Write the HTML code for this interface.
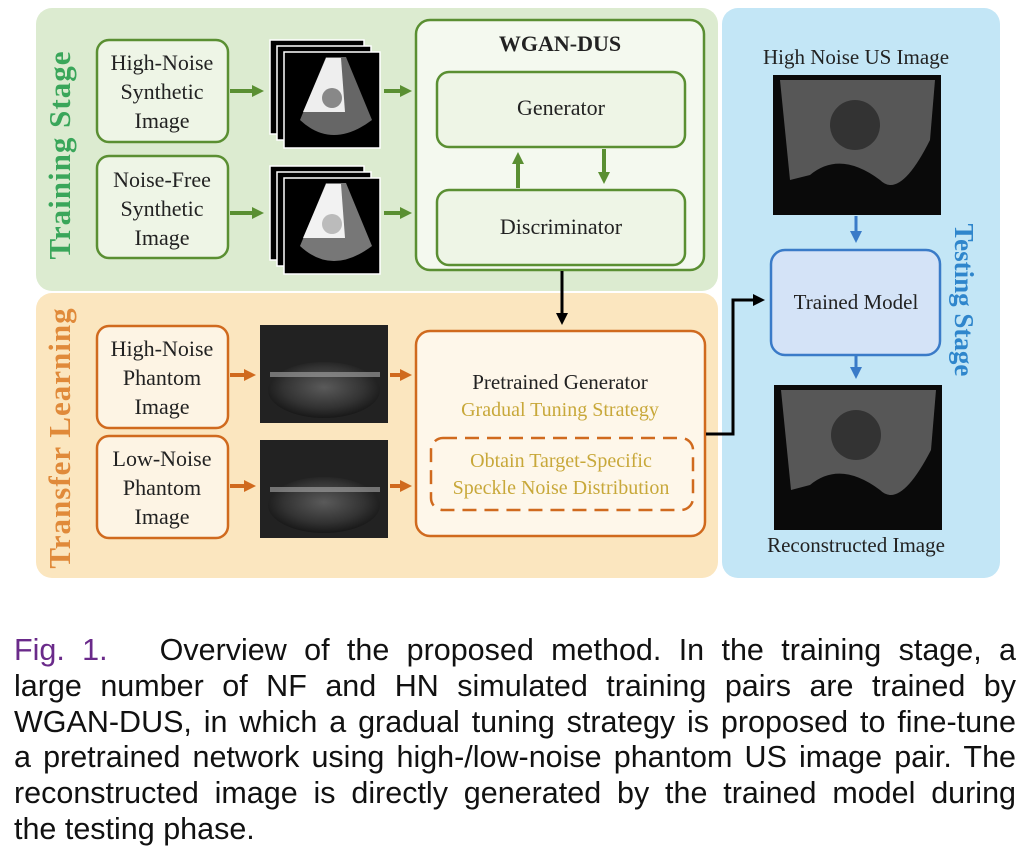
<!DOCTYPE html>
<html><head><meta charset="utf-8"><style>
html,body{margin:0;padding:0;background:#fff;width:1029px;height:856px;overflow:hidden}
svg text{font-family:"Liberation Serif",serif}
.cap{position:absolute;left:14px;top:633px;width:1002px;font-family:"Liberation Sans",sans-serif;font-size:30.5px;line-height:35.8px;color:#111}
.cap div{text-align:justify;text-align-last:justify;white-space:nowrap;height:35.8px}
.cap div.l{text-align-last:left}
</style></head><body>
<svg width="1029" height="600" viewBox="0 0 1029 600" style="position:absolute;left:0;top:0">
<defs>
<marker id="ag" markerWidth="12" markerHeight="12" refX="6" refY="6" orient="auto" markerUnits="userSpaceOnUse"><path d="M0,0L12,6L0,12z" fill="#5a8f32"/></marker>
<marker id="ao" markerWidth="12" markerHeight="12" refX="6" refY="6" orient="auto" markerUnits="userSpaceOnUse"><path d="M0,0L12,6L0,12z" fill="#d06a1e"/></marker>
<marker id="ab" markerWidth="12" markerHeight="12" refX="7" refY="6" orient="auto" markerUnits="userSpaceOnUse"><path d="M0,0L12,6L0,12z" fill="#000"/></marker>
<marker id="au" markerWidth="12" markerHeight="12" refX="7" refY="6" orient="auto" markerUnits="userSpaceOnUse"><path d="M0,0L12,6L0,12z" fill="#3a7bc8"/></marker>
<radialGradient id="us" cx="50%" cy="45%" r="60%"><stop offset="0" stop-color="#5a5a5a"/><stop offset="0.6" stop-color="#333"/><stop offset="1" stop-color="#111"/></radialGradient>
</defs>
<rect x="36" y="8" width="682" height="283" rx="16" fill="#dcebd0"/>
<rect x="36" y="293" width="682" height="285" rx="16" fill="#fbe6bf"/>
<rect x="722" y="8" width="278" height="570" rx="16" fill="#c3e6f6"/>
<text transform="translate(70,155) rotate(-90)" text-anchor="middle" font-size="31" font-weight="bold" fill="#3aa65a" letter-spacing="1">Training Stage</text>
<text transform="translate(70,438) rotate(-90)" text-anchor="middle" font-size="31" font-weight="bold" fill="#e08a3a" letter-spacing="1">Transfer Learning</text>
<text transform="translate(955,300) rotate(90)" text-anchor="middle" font-size="27" font-weight="bold" fill="#2f86cc">Testing Stage</text>
<g fill="#eef5e6" stroke="#5a8f32" stroke-width="2.5">
<rect x="97" y="40" width="131" height="102" rx="12"/>
<rect x="97" y="156" width="131" height="102" rx="12"/>
<rect x="416" y="20" width="288" height="250" rx="14" fill="#f4f9ef"/>
<rect x="437" y="72" width="248" height="75" rx="12"/>
<rect x="437" y="190" width="248" height="75" rx="12"/>
</g>
<g font-size="22" text-anchor="middle" fill="#222">
<text x="162" y="70">High-Noise</text><text x="162" y="99">Synthetic</text><text x="162" y="128">Image</text>
<text x="162" y="187">Noise-Free</text><text x="162" y="216">Synthetic</text><text x="162" y="245">Image</text>
<text x="560" y="51" font-weight="bold" font-size="22">WGAN-DUS</text>
<text x="561" y="115">Generator</text>
<text x="561" y="234">Discriminator</text>
</g>
<g>
<rect x="270" y="40" width="94" height="94" fill="#000" stroke="#fff" stroke-width="1.5"/>
<rect x="277" y="46" width="94" height="94" fill="#000" stroke="#fff" stroke-width="1.5"/>
<rect x="284" y="52" width="96" height="96" fill="#000" stroke="#fff" stroke-width="1.5"/>
<path d="M326,57 L300,120 Q332,150 372,120 L346,57z" fill="#666"/>
<path d="M326,58 L303,112 L345,112 L341,58z" fill="#eee"/>
<circle cx="332" cy="98" r="10" fill="#888"/>
<rect x="270" y="166" width="94" height="94" fill="#000" stroke="#fff" stroke-width="1.5"/>
<rect x="277" y="172" width="94" height="94" fill="#000" stroke="#fff" stroke-width="1.5"/>
<rect x="284" y="178" width="96" height="96" fill="#000" stroke="#fff" stroke-width="1.5"/>
<path d="M326,183 L300,246 Q332,276 372,246 L346,183z" fill="#777"/>
<path d="M326,184 L303,238 L345,238 L341,184z" fill="#f2f2f2"/>
<circle cx="332" cy="224" r="10" fill="#bbb"/>
</g>
<g stroke="#5a8f32" stroke-width="4" fill="none">
<line x1="230" y1="91" x2="258" y2="91" marker-end="url(#ag)"/>
<line x1="230" y1="213" x2="258" y2="213" marker-end="url(#ag)"/>
<line x1="384" y1="91" x2="406" y2="91" marker-end="url(#ag)"/>
<line x1="384" y1="213" x2="406" y2="213" marker-end="url(#ag)"/>
<line x1="518" y1="188" x2="518" y2="158" marker-end="url(#ag)"/>
<line x1="604" y1="149" x2="604" y2="178" marker-end="url(#ag)"/>
</g>
<g fill="#fdf4e4" stroke="#d06a1e" stroke-width="2.5">
<rect x="97" y="326" width="131" height="102" rx="12"/>
<rect x="97" y="436" width="131" height="102" rx="12"/>
<rect x="416" y="331" width="289" height="205" rx="14" fill="#fef7ea"/>
<rect x="431" y="438" width="262" height="72" rx="12" fill="none" stroke-dasharray="14,8"/>
</g>
<g font-size="22" text-anchor="middle" fill="#222">
<text x="162" y="356">High-Noise</text><text x="162" y="385">Phantom</text><text x="162" y="414">Image</text>
<text x="162" y="466">Low-Noise</text><text x="162" y="495">Phantom</text><text x="162" y="524">Image</text>
<text x="560" y="389" font-size="21">Pretrained Generator</text>
<text x="560" y="416" fill="#c8a83a" font-size="20">Gradual Tuning Strategy</text>
<text x="561" y="467" fill="#c8a83a" font-size="20">Obtain Target-Specific</text>
<text x="561" y="494" fill="#c8a83a" font-size="20">Speckle Noise Distribution</text>
</g>
<g>
<rect x="260" y="325" width="128" height="98" fill="#222"/>
<ellipse cx="324" cy="390" rx="56" ry="28" fill="url(#us)"/>
<rect x="270" y="372" width="110" height="5" fill="#aaa" opacity="0.6"/>
<rect x="260" y="440" width="128" height="98" fill="#222"/>
<ellipse cx="324" cy="505" rx="56" ry="28" fill="url(#us)"/>
<rect x="270" y="487" width="110" height="5" fill="#aaa" opacity="0.6"/>
</g>
<g stroke="#d06a1e" stroke-width="4" fill="none">
<line x1="230" y1="375" x2="250" y2="375" marker-end="url(#ao)"/>
<line x1="230" y1="486" x2="250" y2="486" marker-end="url(#ao)"/>
<line x1="390" y1="375" x2="406" y2="375" marker-end="url(#ao)"/>
<line x1="390" y1="486" x2="406" y2="486" marker-end="url(#ao)"/>
</g>
<g stroke="#000" stroke-width="3" fill="none">
<line x1="562" y1="271" x2="562" y2="320" marker-end="url(#ab)"/>
<polyline points="706,434 733,434 733,300 760,300" marker-end="url(#ab)"/>
</g>
<text x="856" y="64" text-anchor="middle" font-size="21" fill="#222">High Noise US Image</text>
<rect x="773" y="75" width="168" height="140" fill="#0a0a0a"/>
<path d="M780,80 L935,80 L930,140 Q900,200 880,180 Q840,150 810,175 L790,180z" fill="#6a6a6a" opacity="0.8"/>
<ellipse cx="855" cy="125" rx="25" ry="25" fill="#333"/>
<rect x="771" y="250" width="169" height="105" rx="14" fill="#d4e3f7" stroke="#3a7bc8" stroke-width="2.5"/>
<text x="856" y="309" text-anchor="middle" font-size="21" fill="#222">Trained Model</text>
<rect x="774" y="385" width="168" height="145" fill="#0a0a0a"/>
<path d="M781,390 L936,390 L931,450 Q900,510 880,490 Q840,460 810,485 L791,490z" fill="#6a6a6a" opacity="0.8"/>
<ellipse cx="856" cy="435" rx="25" ry="25" fill="#333"/>
<text x="856" y="552" text-anchor="middle" font-size="21" fill="#222">Reconstructed Image</text>
<g stroke="#3a7bc8" stroke-width="3">
<line x1="856" y1="216" x2="856" y2="238" marker-end="url(#au)"/>
<line x1="856" y1="356" x2="856" y2="374" marker-end="url(#au)"/>
</g>
</svg>
<div class="cap">
<div><span style="color:#6a2a8a">Fig. 1.</span>&nbsp;&nbsp;&nbsp;Overview of the proposed method. In the training stage, a</div>
<div>large number of NF and HN simulated training pairs are trained by</div>
<div>WGAN-DUS, in which a gradual tuning strategy is proposed to fine-tune</div>
<div>a pretrained network using high-/low-noise phantom US image pair. The</div>
<div>reconstructed image is directly generated by the trained model during</div>
<div class="l">the testing phase.</div>
</div>
</body></html>
